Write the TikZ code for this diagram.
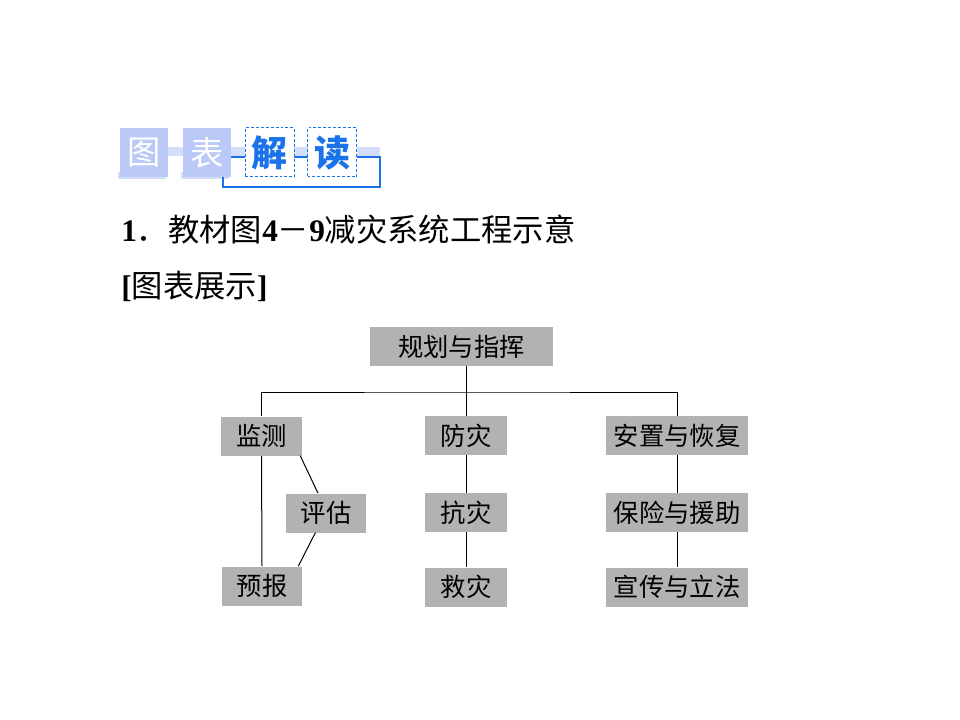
\documentclass[tikz,border=0pt]{standalone}
\usepackage{fontspec}
\setmainfont{Liberation Serif}
\newfontfamily\cjk{Noto Sans CJK SC}
\usetikzlibrary{positioning}
\definecolor{box_gray}   {RGB} {178,178,178}
\definecolor{title_blue} {RGB} {26,115,232}
\definecolor{title_pale} {RGB} {186,201,247}
\definecolor{title_band} {RGB} {212,222,251}

\begin{document}
\begin{tikzpicture}[x=0.75pt,y=-0.75pt,
  part/.style={fill=box_gray,inner sep=0pt,minimum height=29.25pt,font=\cjk\fontsize{19}{19}\selectfont},
  tag/.style={fill=title_pale,inner sep=0pt,minimum width=36pt,minimum height=36.75pt,text=white,font=\cjk\fontsize{25}{25}\selectfont},
  key/.style={draw=title_blue,dashed,dash pattern=on 2.2pt off 1.5pt,line width=0.75pt,fill=white,inner sep=0pt,minimum width=36.75pt,minimum height=36.75pt,text=title_blue,font=\cjk\bfseries\fontsize{27}{27}\selectfont},
  link/.style={black,line width=0.75pt}]
\useasboundingbox (0,0) rectangle (960,720);
% title banner
\fill[title_band] (120,147) rectangle (380,156);
\fill[title_band] (118,172) rectangle (166,179);
\fill[title_band] (181,172) rectangle (229,179);
\draw[title_blue,line width=1pt] (231,157) -- (380,157) -- (380,187) -- (223,187) -- (223,177);
\node[tag] (tu) at (144,152.5) {图};
\node[tag] (biao) at (207,152.5) {表};
\node[key] (jie) at (269.5,152.5) {解};
\node[key] (du) at (332,152.5) {读};
% heading lines
\node[anchor=west,inner sep=0pt,font=\fontsize{23.5}{23.5}\selectfont] (head) at (121,230)
  {{\bfseries 1}{\cjk ．教材图}{\bfseries 4}{\cjk －}{\bfseries 9}{\cjk 减灾系统工程示意}};
\node[anchor=west,inner sep=0pt,font=\fontsize{23.5}{23.5}\selectfont] (show) at (121,286)
  {{\bfseries [}{\cjk 图表展示}{\bfseries ]}};
% diagram
\node[part,minimum width=137.25pt] (plan) at (461.5,346.5) {规划与指挥};
\node[part,minimum width=60.75pt] (monitor) at (261.5,436) {监测};
\node[part,minimum width=60pt] (assess) at (326,513) {评估};
\node[part,minimum width=60pt] (forecast) at (262,586) {预报};
\node[part,minimum width=61.5pt] (prevent) at (466,435.5) {防灾};
\node[part,minimum width=61.5pt] (resist) at (466,512.5) {抗灾};
\node[part,minimum width=61.5pt] (rescue) at (466,587) {救灾};
\node[part,minimum width=106.5pt] (settle) at (677,435.5) {安置与恢复};
\node[part,minimum width=106.5pt] (insure) at (677,512.5) {保险与援助};
\node[part,minimum width=106.5pt] (publish) at (677,587) {宣传与立法};
\coordinate (bus) at (465,392);
\draw[link] (monitor.north) |- (bus) -| (settle.north);
\draw[link] (prevent.north) -- (prevent.north |- plan.south);
\draw[link] (monitor.south) -- (forecast.north);
\draw[link] ([xshift=-1.5pt]monitor.south east) -- ([xshift=-6pt]assess.north);
\draw[link] ([xshift=-8pt]assess.south) -- ([xshift=-3pt]forecast.north east);
\draw[link] (prevent) -- (resist);
\draw[link] (resist) -- (rescue);
\draw[link] (settle) -- (insure);
\draw[link] (insure) -- (publish);
\end{tikzpicture}
\end{document}
